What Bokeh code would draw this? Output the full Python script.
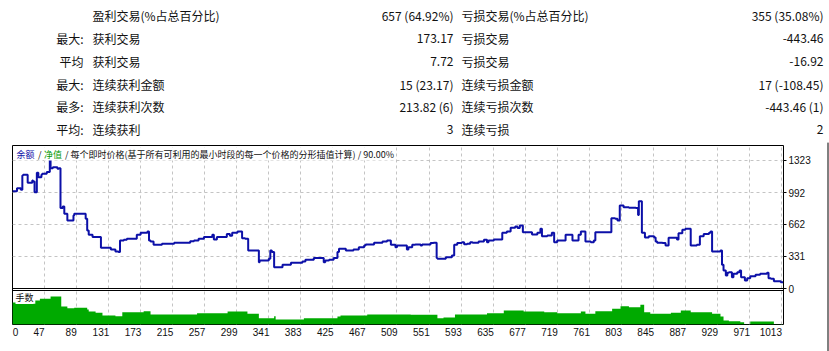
from bokeh.plotting import figure
from bokeh.layouts import column, row
from bokeh.models import FixedTicker, Label, Range1d, Grid, Span
from bokeh.core.properties import value
from bokeh.embed import file_html
from bokeh.resources import INLINE

# ---------------- table data ----------------
row_prefix = ["", "最大:", "平均", "最大:", "最多:", "平均:"]
win_labels = ["盈利交易(%占总百分比)", "获利交易", "获利交易", "连续获利金额", "连续获利次数", "连续获利"]
win_values = ["657 (64.92%)", "173.17", "7.72", "15 (23.17)", "213.82 (6)", "3"]
loss_labels = ["亏损交易(%占总百分比)", "亏损交易", "亏损交易", "连续亏损金额", "连续亏损次数", "连续亏损"]
loss_values = ["355 (35.08%)", "-443.46", "-16.92", "17 (-108.45)", "-443.46 (1)", "2"]

# ---------------- chart data ----------------
balance_trade = [5, 11, 16, 18, 19, 25, 31, 32, 34, 37, 39, 43, 44, 50, 54, 55, 58, 64, 66, 68,
                 71, 73, 77, 85, 86, 101, 103, 105, 110, 121, 134, 140, 144, 146, 151, 155, 168, 173, 182, 184,
                 186, 190, 201, 217, 238, 243, 249, 256, 267, 269, 273, 286, 290, 293, 300, 306, 310, 314, 328, 329,
                 341, 343, 345, 348, 359, 370, 385, 389, 400, 413, 415, 420, 426, 431, 433, 442, 452, 459, 466, 468,
                 479, 490, 496, 501, 507, 509, 522, 524, 529, 533, 540, 542, 553, 557, 561, 562, 573, 581, 584, 588,
                 594, 597, 601, 605, 608, 616, 623, 627, 629, 636, 647, 653, 658, 664, 667, 670, 674, 686, 693, 697,
                 699, 706, 712, 715, 719, 730, 739, 747, 750, 756, 763, 767, 769, 790, 795, 798, 801, 806, 813, 822,
                 825, 826, 830, 834, 839, 846, 848, 850, 857, 861, 865, 876, 878, 883, 887, 894, 902, 906, 911, 918,
                 920, 922, 933, 935, 937, 940, 942, 944, 948, 950, 955, 958, 960, 965, 968, 972, 979, 985, 994, 996,
                 999, 1003, 1012, 1015]
balance_value = [1006, 1037, 1020, 1168, 1175, 1093, 1117, 1106, 996, 1196, 1150, 1175, 1186, 1203, 1330, 1244, 1254, 1237, 1244, 831,
                 848, 772, 703, 755, 772, 720, 600, 555, 531, 420, 403, 382, 376, 496, 503, 513, 555, 575, 589, 496,
                 486, 452, 462, 472, 489, 496, 513, 531, 555, 507, 531, 562, 545, 575, 589, 520, 513, 393, 272, 289,
                 307, 393, 376, 220, 245, 265, 279, 296, 314, 272, 289, 296, 314, 376, 410, 393, 403, 427, 445, 455,
                 472, 486, 496, 451, 427, 445, 403, 427, 451, 455, 445, 455, 469, 472, 314, 307, 324, 341, 451, 469,
                 479, 458, 462, 479, 472, 486, 503, 479, 496, 506, 575, 589, 627, 641, 624, 651, 582, 558, 575, 617,
                 541, 548, 575, 479, 496, 555, 496, 555, 589, 486, 479, 496, 582, 727, 720, 703, 858, 841, 834, 831,
                 760, 903, 576, 527, 541, 527, 486, 472, 469, 445, 524, 506, 572, 607, 617, 445, 451, 541, 562, 575,
                 589, 382, 393, 245, 186, 134, 162, 169, 117, 152, 169, 186, 117, 83, 107, 127, 141, 152, 162, 107,
                 100, 76, 65, 65]

volume_trade = [5, 16, 35, 41, 55, 69, 77, 86, 103, 105, 114, 123, 140, 149, 177, 186, 247, 287, 313, 328,
                348, 350, 387, 431, 435, 470, 527, 562, 570, 585, 627, 649, 675, 702, 719, 750, 756, 769, 791, 802,
                813, 828, 833, 841, 868, 881, 894, 922, 933, 937, 944, 959, 964, 972, 1003, 1015]
volume_lots = [2.2, 2.07, 2.4, 2.57, 2.8, 1.8, 1.63, 1.67, 1.5, 1.3, 1.17, 0.9, 0.83, 1.23, 1.33, 1.0, 1.13, 1.3, 1.07, 0.63,
               0.83, 0.5, 0.63, 0.8, 0.9, 1.0, 0.97, 0.63, 0.7, 1.0, 1.13, 1.4, 1.3, 1.23, 1.13, 1.3, 1.07, 1.33, 1.57, 1.83,
               1.73, 1.97, 1.23, 1.07, 1.17, 1.4, 1.23, 1.07, 0.8, 0.4, 0.33, 0.23, 0.03, 0.3, 0.03, 0.03]

x_tick_values = [0, 47, 89, 131, 173, 215, 257, 299, 341, 383, 425, 467, 509, 551, 593, 635,
                 677, 719, 761, 803, 845, 887, 929, 971, 1013]
y_tick_values = [0, 331, 662, 992, 1323]

header_parts = ["余额", "/", "净值", "/ 每个即时价格(基于所有可利用的最小时段的每一个价格的分形插值计算) / 90.00%"]
volume_title = "手数"

# ---------------- styling / geometry ----------------
CJK_NAME = "Noto Sans CJK SC"
CJK = value(CJK_NAME)
BLUE = "#0c10a8"
GREEN = "#00aa00"
GRID = "#c4c4c4"

X_START, X_END = 5.1, 1015.6
FRAME_W = 771
PPT = FRAME_W / (X_END - X_START)      # pixels per trade
FRAME_TOP, ZERO_PX, FRAME_BOTTOM = 145, 288, 324
VAL_PER_PX = 10.335                    # balance units per pixel
VOL_PER_PX = 0.1                       # lots per pixel
VOL_PANEL_TOP = 3.4                    # lots at the volume panel's top border

bal_lo = -(FRAME_BOTTOM - ZERO_PX) * VAL_PER_PX
bal_hi = (ZERO_PX - FRAME_TOP) * VAL_PER_PX
vol_hi = (FRAME_BOTTOM - FRAME_TOP) * VOL_PER_PX


def px_to_trade(px):
    return X_START + (px - 12) / PPT


def py_to_balance(py):
    return (ZERO_PX - py) * VAL_PER_PX


# ---------------- top table ----------------
top = figure(width=829, height=140, x_range=Range1d(0, 829), y_range=Range1d(140, 0),
             x_axis_location=None, y_axis_location=None, toolbar_location=None,
             output_backend="svg", min_border=0, outline_line_color=None)
top.grid.visible = False
row_y = [15 + i * 22.85 for i in range(len(row_prefix))]
common = dict(text_baseline="middle", text_font=CJK, text_font_size="12px", text_color="#111111")
top.text(x=[83] * 6, y=row_y, text=row_prefix, text_align="right", **common)
top.text(x=[92] * 6, y=row_y, text=win_labels, text_align="left", **common)
top.text(x=[453] * 6, y=row_y, text=win_values, text_align="right", **common)
top.text(x=[461] * 6, y=row_y, text=loss_labels, text_align="left", **common)
top.text(x=[823] * 6, y=row_y, text=loss_values, text_align="right", **common)

# ---------------- balance + volume chart (one frame, two panels) ----------------
chart = figure(width=826, height=206, x_range=Range1d(X_START, X_END), y_range=Range1d(bal_lo, bal_hi),
               x_axis_location="below", y_axis_location="right", toolbar_location=None,
               output_backend="svg", min_border=0, min_border_left=12, min_border_right=43,
               min_border_top=FRAME_TOP - 140, min_border_bottom=346 - FRAME_BOTTOM,
               outline_line_color="black", outline_line_width=1)
chart.extra_y_ranges = {"vol": Range1d(0, vol_hi)}

# right balance axis
chart.yaxis.ticker = FixedTicker(ticks=y_tick_values)
chart.yaxis.major_tick_out = 3
chart.yaxis.major_tick_in = 0
chart.yaxis.minor_tick_out = 0
chart.yaxis.minor_tick_in = 0
chart.yaxis.axis_line_color = None
chart.yaxis.major_tick_line_color = "black"
chart.yaxis.major_label_standoff = 2
chart.yaxis.major_label_text_font = "Liberation Sans"
chart.yaxis.major_label_text_font_size = "10px"
chart.yaxis.major_label_text_color = "#111111"

# bottom trade-number axis (labels sit left of their grid line, as in the terminal)
label_pos = []
overrides = {}
for v in x_tick_values:
    s = str(v)
    pos = int(round(v - len(s) * 2.6 / PPT))
    pos = max(pos, int(round(X_START + 4)))
    label_pos.append(pos)
    overrides[pos] = s
chart.xaxis.ticker = FixedTicker(ticks=label_pos)
chart.xaxis.major_label_overrides = overrides
chart.xaxis.major_tick_out = 0
chart.xaxis.major_tick_in = 0
chart.xaxis.minor_tick_out = 0
chart.xaxis.minor_tick_in = 0
chart.xaxis.axis_line_color = None
chart.xaxis.major_label_standoff = 3
chart.xaxis.major_label_text_font = "Liberation Sans"
chart.xaxis.major_label_text_font_size = "10px"
chart.xaxis.major_label_text_color = "#111111"

# grids
chart.xgrid.ticker = FixedTicker(ticks=x_tick_values[1:])
chart.ygrid.ticker = FixedTicker(ticks=y_tick_values[1:])
for g in chart.grid:
    g.grid_line_color = GRID
    g.grid_line_dash = "3 3"
    g.grid_line_width = 1

# volume histogram (lower panel)
chart.varea_step(x=volume_trade, y1=0, y2=volume_lots, step_mode="after",
                 fill_color=GREEN, y_range_name="vol")

# panel separators
chart.add_layout(Span(location=0, dimension="width", line_color="black", line_width=1))
chart.add_layout(Span(location=VOL_PANEL_TOP, dimension="width", line_color="black",
                      line_width=1, y_range_name="vol"))

# balance curve
chart.step(x=balance_trade, y=balance_value, mode="after", line_color=BLUE, line_width=2)

# header texts
header_px = [16, 37.5, 43.5, 64.5]
header_colors = [BLUE, "#111111", "#009900", "#111111"]
for txt, px, col in zip(header_parts, header_px, header_colors):
    chart.add_layout(Label(x=px_to_trade(px), y=py_to_balance(153.5), text=txt,
                           text_font=CJK_NAME, text_font_size="9px", text_color=col,
                           text_baseline="middle", text_align="left",
                           background_fill_color="white"))
chart.add_layout(Label(x=px_to_trade(15), y=2.7, text=volume_title, text_font=CJK_NAME,
                       text_font_size="9px", text_color="#111111", text_baseline="middle",
                       background_fill_color="white", y_range_name="vol"))

# ---------------- bottom grey tab strip ----------------
tab_left = [9, 64, 234, 305, 361, 412, 496, 580, 664, 744]
tab_right = [63, 233, 304, 360, 411, 494, 578, 662, 742, 826]
strip = figure(width=826, height=5, x_range=Range1d(0, 826), y_range=Range1d(0, 1),
               x_axis_location=None, y_axis_location=None, toolbar_location=None,
               output_backend="svg", min_border=0, outline_line_color=None)
strip.grid.visible = False
strip.quad(left=tab_left, right=tab_right, bottom=0, top=1, fill_color="#c0c0c0", line_color=None)

# ---------------- right window edge ----------------
edge = figure(width=3, height=211, x_range=Range1d(0, 3), y_range=Range1d(0, 1),
              x_axis_location=None, y_axis_location=None, toolbar_location=None,
              output_backend="svg", min_border=0, outline_line_color=None)
edge.grid.visible = False
edge.segment(x0=[1.5], y0=[0], x1=[1.5], y1=[0.99], line_color="black", line_width=1)

layout = column(top, row(column(chart, strip), edge))

open("out.html", "w").write(file_html(layout, INLINE))
